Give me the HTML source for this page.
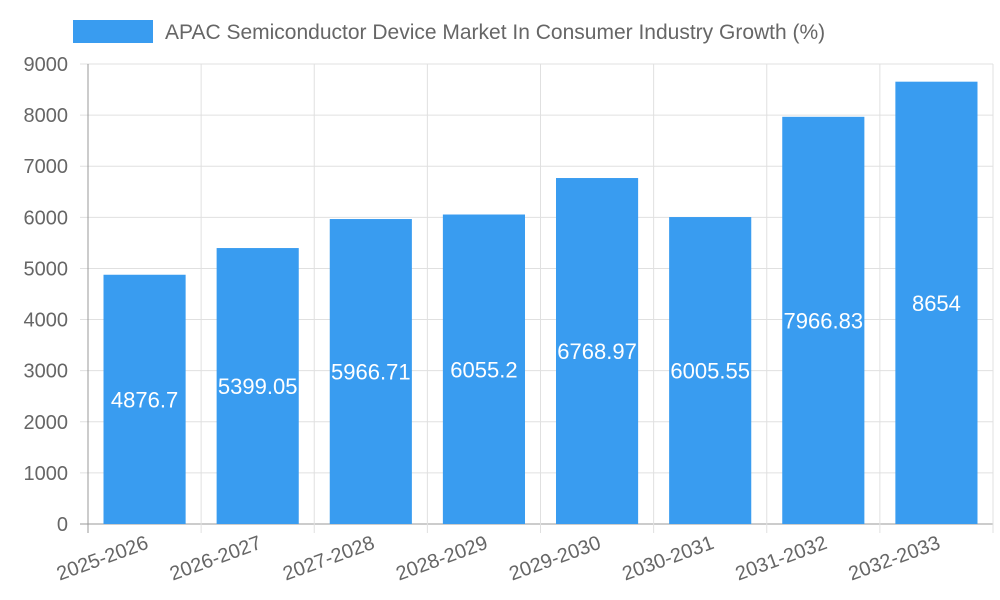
<!DOCTYPE html>
<html><head><meta charset="utf-8"><style>
body{margin:0;background:#fff;}
svg{display:block;font-family:"Liberation Sans",sans-serif;}
</style></head><body>
<svg id="c" width="1000" height="600"></svg>
<script>
const categories=["2025-2026","2026-2027","2027-2028","2028-2029","2029-2030","2030-2031","2031-2032","2032-2033"];
const values=[4876.7,5399.05,5966.71,6055.2,6768.97,6005.55,7966.83,8654];
const yTicks=[0,1000,2000,3000,4000,5000,6000,7000,8000,9000];
const NS="http://www.w3.org/2000/svg";
const svg=document.getElementById('c');
const L=88,R=993,T=64,B=524,YMAX=9000;
const band=(R-L)/categories.length;
const y=v=>B-(v/YMAX)*(B-T);
const xb=i=>L+band*i;
function mk(t,a,p){const e=document.createElementNS(NS,t);for(const k in a)e.setAttribute(k,a[k]);(p||svg).appendChild(e);return e;}
// grid
const grid=mk('g',{});


yTicks.forEach(v=>{mk('line',{x1:80,x2:R,y1:y(v),y2:y(v),stroke:v===0?'#999':'#e0e0e0','stroke-width':1},grid);
 const t=mk('text',{x:68,y:y(v)+7,'text-anchor':'end','font-size':20,fill:'#666'});t.textContent=v;
 });
for(let i=0;i<=categories.length;i++){mk('line',{x1:xb(i),x2:xb(i),y1:T,y2:B+9,stroke:i===0?'#999':'#e0e0e0','stroke-width':1},grid);}
// bars
categories.forEach((c,i)=>{
 const x0=xb(i)+band*0.137,w=band*0.726;
 const r=mk('rect',{x:x0,y:y(values[i]),width:w,height:B-y(values[i]),fill:'#399cf0'});
 
 const t=mk('text',{x:x0+w/2,y:(y(values[i])+B)/2+8,'text-anchor':'middle','font-size':22,fill:'#fff'});
 t.textContent=values[i];
 const cx=xb(i)+band/2+5;
 const xl=mk('text',{x:cx,y:548,'text-anchor':'end','font-size':20,fill:'#666',transform:`rotate(-20 ${cx} 548)`});
 xl.textContent=c;
});
// legend
const lg=mk('g',{});
mk('rect',{x:73,y:20,width:80,height:23,fill:'#399cf0'},lg);
const lt=mk('text',{x:165,y:39,'font-size':21,fill:'#666'},lg);lt.textContent='APAC Semiconductor Device Market In Consumer Industry Growth (%)';
</script>
</body></html>
